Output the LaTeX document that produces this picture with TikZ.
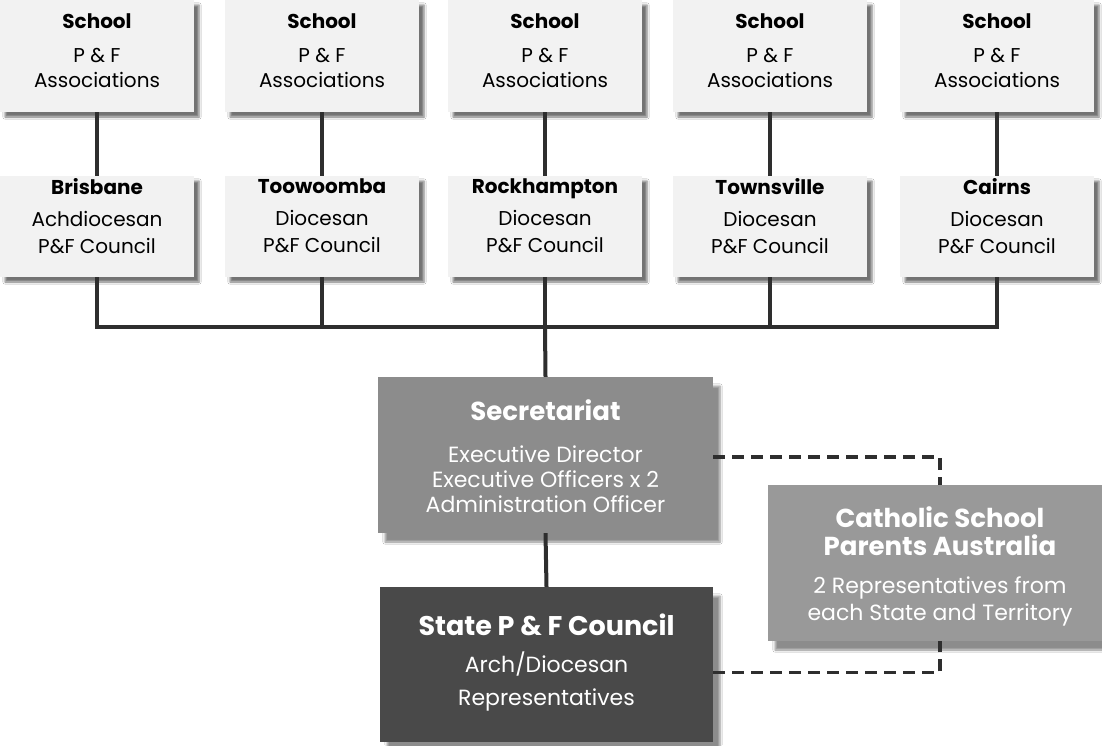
\documentclass[tikz,border=0pt]{standalone}
\usepackage{fontspec}
\setmainfont{Poppins}
\usetikzlibrary{shadows.blur}
\definecolor{lightfill}{HTML}{F2F2F2}
\definecolor{secfill}{HTML}{8C8C8C}
\definecolor{statefill}{HTML}{494949}
\definecolor{cspafill}{HTML}{999999}
\definecolor{linecol}{HTML}{2E2E2E}
\tikzset{
  lightbox/.style={draw=none, fill=lightfill, align=center, inner sep=0pt,
    minimum width=194pt, text=black,
    blur shadow={shadow xshift=5pt, shadow yshift=-5pt, shadow blur steps=4, shadow opacity=55}},
  topbox/.style={lightbox, minimum height=112pt, font=\fontsize{20}{25}\selectfont},
  midbox/.style={lightbox, minimum height=101pt, font=\fontsize{20}{27}\selectfont},
  darkbox/.style={draw=none, align=center, inner sep=0pt, text=white,
    blur shadow={shadow xshift=7pt, shadow yshift=-9pt, shadow blur steps=6, shadow opacity=45}},
  conn/.style={draw=linecol, line width=4pt},
  dashconn/.style={draw=linecol, line width=3.5pt, dash pattern=on 12pt off 7pt},
}
\newcommand{\ttl}[1]{{\bfseries #1}}
\newcommand{\bigttl}[2]{{\fontsize{#1}{#1}\selectfont\bfseries #2}}
\begin{document}
\begin{tikzpicture}[x=1pt, y=-1pt]
\useasboundingbox (0,0) rectangle (1102,745);
\fill[white] (0,0) rectangle (1102,745);
% top row
\foreach \i/\x in {1/97, 2/322, 3/545, 4/770, 5/997} {
  \node[topbox] (s\i) at (\x,56) {\ttl{School}\\[9pt]P \& F\\Associations\rule[-10pt]{0pt}{0pt}};
}
\node[midbox] (d1) at (97,226.5) {\ttl{Brisbane}\\[5pt]Achdiocesan\\P\&F Council\rule[-22pt]{0pt}{0pt}};
\node[midbox] (d2) at (322,226.5) {\ttl{Toowoomba}\\[5pt]Diocesan\\P\&F Council\rule[-22pt]{0pt}{0pt}};
\node[midbox] (d3) at (545,226.5) {\ttl{Rockhampton}\\[5pt]Diocesan\\P\&F Council\rule[-22pt]{0pt}{0pt}};
\node[midbox] (d4) at (770,226.5) {\ttl{Townsville}\\[5pt]Diocesan\\P\&F Council\rule[-22pt]{0pt}{0pt}};
\node[midbox] (d5) at (997,226.5) {\ttl{Cairns}\\[5pt]Diocesan\\P\&F Council\rule[-22pt]{0pt}{0pt}};
% lower boxes
\node[darkbox, fill=secfill, minimum width=335pt, minimum height=156pt,
  font=\fontsize{22}{25}\selectfont] (sec) at (545.5,455)
  {\rule{0pt}{24pt}\bigttl{26}{Secretariat}\\[17pt]Executive Director\\Executive Officers x 2\\Administration Officer};
\node[darkbox, fill=statefill, minimum width=333pt, minimum height=155pt,
  font=\fontsize{22}{33}\selectfont] (state) at (546.5,664.5)
  {\bigttl{27}{State P \& F Council}\\[4pt]Arch/Diocesan\\Representatives\rule[-9pt]{0pt}{0pt}};
\node[darkbox, fill=cspafill, minimum width=344pt, minimum height=156pt,
  font=\fontsize{22}{27}\selectfont] (cspa) at (940,563)
  {\rule{0pt}{27pt}\bigttl{26}{Catholic School}\\[1pt]\bigttl{26}{Parents Australia}\\[11pt]2 Representatives from\\each State and Territory};
% connectors
\foreach \i in {1,...,5} { \draw[conn] (s\i.south) -- (d\i.north); }
\coordinate (busL) at (97,327);
\coordinate (busR) at (997,327);
\draw[conn] (d1.south) -- (busL) -- (busR) -- (d5.south);
\foreach \i in {2,3,4} { \draw[conn] (d\i.south) -- (d\i.south |- busL); }
\draw[conn] (d3.south |- busL) -- (sec.north);
\draw[conn] (sec.south) -- (state.north);
\draw[dashconn] ([yshift=-2pt]sec.east) -| (cspa.north);
\draw[dashconn] ([yshift=-8pt]state.east) -| (cspa.south);
\end{tikzpicture}
\end{document}
